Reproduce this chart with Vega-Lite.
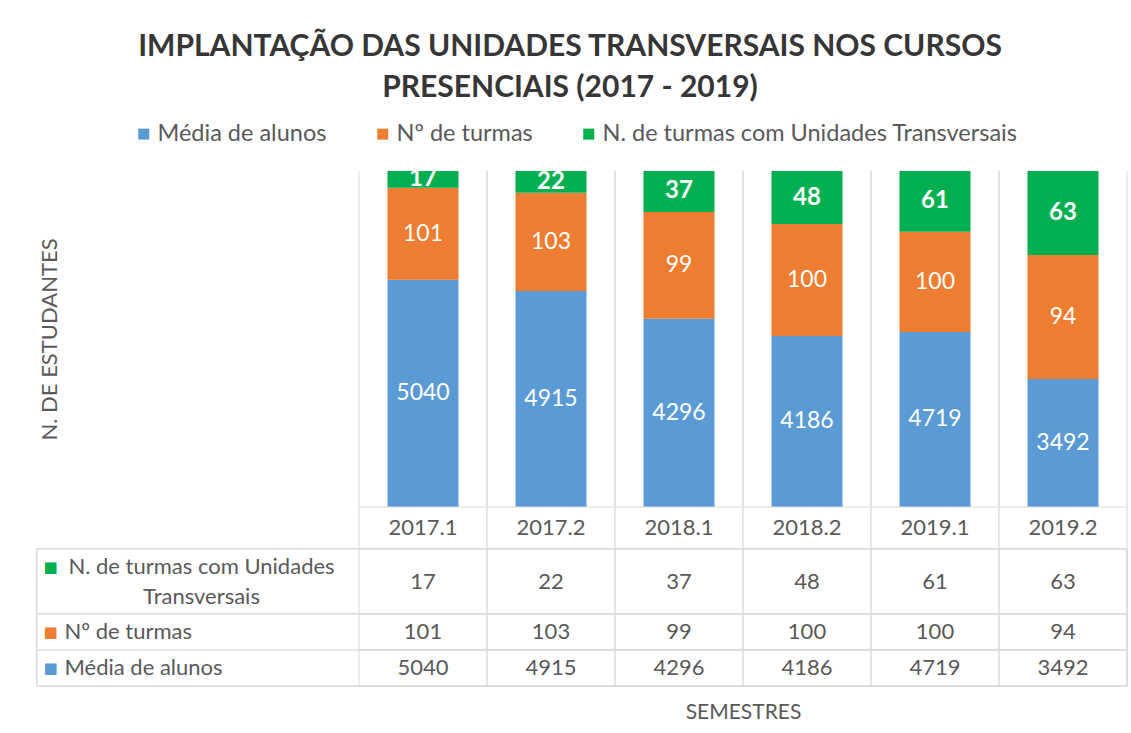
{
  "$schema": "https://vega.github.io/schema/vega-lite/v6.json",
  "background": "white",
  "autosize": {"type": "pad"},
  "padding": {"left": 36, "top": 32, "right": 5, "bottom": 5},
  "bounds": "flush",
  "config": {
    "view": {"stroke": null},
    "font": "Lato",
    "text": {"font": "Lato"},
    "axis": {"labelFont": "Lato", "titleFont": "Lato"},
    "legend": {"labelFont": "Lato"}
  },
  "title": {
    "text": ["IMPLANTAÇÃO DAS UNIDADES TRANSVERSAIS NOS CURSOS", "PRESENCIAIS (2017 - 2019)"],
    "font": "Lato",
    "fontSize": 30,
    "fontWeight": "bold",
    "color": "#363636",
    "lineHeight": 41,
    "anchor": "middle",
    "dx": -12,
    "offset": 19
  },
  "datasets": {
    "barras": [
      {"semestre": "2017.1", "serie": "Média de alunos", "valor": 5040, "altura": 67.6, "ordem": 1},
      {"semestre": "2017.1", "serie": "Nº de turmas", "valor": 101, "altura": 27.4, "ordem": 2},
      {"semestre": "2017.1", "serie": "N. de turmas com Unidades Transversais", "valor": 17, "altura": 5.0, "ordem": 3},
      {"semestre": "2017.2", "serie": "Média de alunos", "valor": 4915, "altura": 64.3, "ordem": 1},
      {"semestre": "2017.2", "serie": "Nº de turmas", "valor": 103, "altura": 29.2, "ordem": 2},
      {"semestre": "2017.2", "serie": "N. de turmas com Unidades Transversais", "valor": 22, "altura": 6.5, "ordem": 3},
      {"semestre": "2018.1", "serie": "Média de alunos", "valor": 4296, "altura": 56.0, "ordem": 1},
      {"semestre": "2018.1", "serie": "Nº de turmas", "valor": 99, "altura": 31.8, "ordem": 2},
      {"semestre": "2018.1", "serie": "N. de turmas com Unidades Transversais", "valor": 37, "altura": 12.2, "ordem": 3},
      {"semestre": "2018.2", "serie": "Média de alunos", "valor": 4186, "altura": 50.9, "ordem": 1},
      {"semestre": "2018.2", "serie": "Nº de turmas", "valor": 100, "altura": 33.3, "ordem": 2},
      {"semestre": "2018.2", "serie": "N. de turmas com Unidades Transversais", "valor": 48, "altura": 15.8, "ordem": 3},
      {"semestre": "2019.1", "serie": "Média de alunos", "valor": 4719, "altura": 52.1, "ordem": 1},
      {"semestre": "2019.1", "serie": "Nº de turmas", "valor": 100, "altura": 29.8, "ordem": 2},
      {"semestre": "2019.1", "serie": "N. de turmas com Unidades Transversais", "valor": 61, "altura": 18.1, "ordem": 3},
      {"semestre": "2019.2", "serie": "Média de alunos", "valor": 3492, "altura": 38.1, "ordem": 1},
      {"semestre": "2019.2", "serie": "Nº de turmas", "valor": 94, "altura": 36.9, "ordem": 2},
      {"semestre": "2019.2", "serie": "N. de turmas com Unidades Transversais", "valor": 63, "altura": 25.0, "ordem": 3}
    ]
  },
  "spacing": 0,
  "resolve": {"scale": {"x": "independent", "y": "independent"}, "axis": {"x": "independent", "y": "independent"}},
  "vconcat": [
    {
      "width": 1090,
      "height": 336,
      "data": {"name": "barras"},
      "layer": [
        {
          "transform": [{"filter": "datum.serie === 'Média de alunos'"}],
          "mark": {"type": "rule", "color": "#D9D9D9", "strokeWidth": 1},
          "encoding": {
            "x": {"field": "semestre", "type": "nominal", "bandPosition": 0, "axis": null,
                  "scale": {"domain": ["2017.1", "2017.2", "2018.1", "2018.2", "2019.1", "2019.2"], "range": [322, 1090], "paddingInner": 0, "paddingOuter": 0}}
          }
        },
        {
          "transform": [{"filter": "datum.serie === 'Média de alunos'"}],
          "mark": {"type": "rule", "color": "#D9D9D9", "strokeWidth": 1},
          "encoding": {
            "x": {"field": "semestre", "type": "nominal", "bandPosition": 1, "axis": null}
          }
        },
        {
          "mark": {"type": "bar", "width": {"band": 0.555}},
          "encoding": {
            "x": {"field": "semestre", "type": "nominal", "axis": null},
            "y": {"field": "altura", "type": "quantitative", "stack": "normalize",
                  "axis": {"title": "N. DE ESTUDANTES", "labels": false, "ticks": false, "domain": false, "grid": false,
                           "titleFontSize": 22, "titleFontWeight": "normal", "titleColor": "#595959", "offset": -24, "titlePadding": 0}},
            "color": {"field": "serie", "type": "nominal",
                      "scale": {"domain": ["Média de alunos", "Nº de turmas", "N. de turmas com Unidades Transversais"], "range": ["#5B9BD5", "#ED7D31", "#00B050"]},
                      "legend": {"orient": "none", "legendX": 95, "legendY": -49, "direction": "horizontal", "title": null,
                                 "symbolType": "square", "symbolSize": 121, "symbolStrokeWidth": 0,
                                 "labelFontSize": 23.5, "labelColor": "#595959", "columnPadding": 44, "labelOffset": 2, "labelLimit": 0}},
            "order": {"field": "ordem", "type": "quantitative"}
          }
        },
        {
          "mark": {"type": "text", "fontSize": 23, "color": "white"},
          "encoding": {
            "x": {"field": "semestre", "type": "nominal", "axis": null},
            "y": {"field": "altura", "type": "quantitative", "stack": "normalize", "bandPosition": 0.5},
            "detail": {"field": "serie", "type": "nominal"},
            "order": {"field": "ordem", "type": "quantitative"},
            "text": {"field": "valor", "type": "quantitative", "format": "d"},
            "opacity": {"condition": {"test": "datum.serie === 'N. de turmas com Unidades Transversais'", "value": 0}, "value": 1}
          }
        },
        {
          "mark": {"type": "text", "fontSize": 24, "fontWeight": "bold", "color": "white", "clip": true},
          "encoding": {
            "x": {"field": "semestre", "type": "nominal", "axis": null},
            "y": {"field": "altura", "type": "quantitative", "stack": "normalize", "bandPosition": 0.5},
            "detail": {"field": "serie", "type": "nominal"},
            "order": {"field": "ordem", "type": "quantitative"},
            "text": {"field": "valor", "type": "quantitative", "format": "d"},
            "opacity": {"condition": {"test": "datum.serie === 'N. de turmas com Unidades Transversais'", "value": 1}, "value": 0}
          }
        }
      ]
    },
    {
      "width": 1090,
      "height": 42,
      "data": {"name": "barras"},
      "transform": [{"filter": "datum.serie === 'Média de alunos'"}],
      "layer": [
        {
          "mark": {"type": "rect", "fill": "white", "stroke": "#D9D9D9", "strokeWidth": 1},
          "encoding": {
            "x": {"field": "semestre", "type": "nominal", "axis": null,
                  "scale": {"domain": ["2017.1", "2017.2", "2018.1", "2018.2", "2019.1", "2019.2"], "range": [322, 1090], "paddingInner": 0, "paddingOuter": 0}}
          }
        },
        {
          "mark": {"type": "text", "fontSize": 22, "color": "#595959"},
          "encoding": {
            "x": {"field": "semestre", "type": "nominal", "axis": null},
            "text": {"field": "semestre", "type": "nominal"}
          }
        }
      ]
    },
    {
      "width": 1090,
      "height": 65,
      "data": {"name": "barras"},
      "transform": [{"filter": "datum.serie === 'N. de turmas com Unidades Transversais'"}],
      "resolve": {"axis": {"y": "independent"}},
      "layer": [
        {
          "mark": {"type": "rect", "fill": "white", "stroke": "#D9D9D9", "strokeWidth": 1},
          "encoding": {
            "y": {"field": "serie", "type": "nominal", "scale": {"paddingInner": 0, "paddingOuter": 0},
                  "axis": {"orient": "left", "title": null, "ticks": false, "domain": false, "grid": false,
                           "labelAlign": "center", "labelBaseline": "middle", "labelPadding": -164, "labelLimit": 0, "labelOffset": -15,
                           "labelFontSize": 22, "labelColor": "#595959", "labelLineHeight": 30,
                           "labelExpr": "['N. de turmas com Unidades', 'Transversais']"}}
          }
        },
        {
          "mark": {"type": "rect", "fill": "transparent", "stroke": "#D9D9D9", "strokeWidth": 1},
          "encoding": {
            "x": {"field": "semestre", "type": "nominal", "axis": null,
                  "scale": {"domain": ["2017.1", "2017.2", "2018.1", "2018.2", "2019.1", "2019.2"], "range": [322, 1090], "paddingInner": 0, "paddingOuter": 0}},
            "y": {"field": "serie", "type": "nominal",
                  "axis": {"orient": "left", "title": null, "ticks": false, "domain": false, "grid": false,
                           "labelAlign": "center", "labelBaseline": "middle", "labelPadding": -13, "labelOffset": -15,
                           "labelFont": "DejaVu Sans", "labelFontSize": 15, "labelColor": "#00B050", "labelExpr": "'■'"}}
          }
        },
        {
          "mark": {"type": "text", "fontSize": 22, "color": "#595959"},
          "encoding": {
            "x": {"field": "semestre", "type": "nominal", "axis": null},
            "y": {"field": "serie", "type": "nominal", "axis": null},
            "text": {"field": "valor", "type": "quantitative", "format": "d"}
          }
        }
      ]
    },
    {
      "width": 1090,
      "height": 72,
      "data": {"name": "barras"},
      "transform": [{"filter": "datum.serie !== 'N. de turmas com Unidades Transversais'"}],
      "resolve": {"axis": {"y": "independent"}},
      "layer": [
        {
          "mark": {"type": "rect", "fill": "white", "stroke": "#D9D9D9", "strokeWidth": 1},
          "encoding": {
            "y": {"field": "serie", "type": "nominal",
                  "scale": {"domain": ["Nº de turmas", "Média de alunos"], "paddingInner": 0, "paddingOuter": 0},
                  "axis": {"orient": "left", "title": null, "ticks": false, "domain": false, "grid": false,
                           "labelAlign": "left", "labelBaseline": "middle", "labelPadding": -27, "labelLimit": 0,
                           "labelFontSize": 22, "labelColor": "#595959"}}
          }
        },
        {
          "mark": {"type": "rect", "fill": "transparent", "stroke": "#D9D9D9", "strokeWidth": 1},
          "encoding": {
            "x": {"field": "semestre", "type": "nominal",
                  "scale": {"domain": ["2017.1", "2017.2", "2018.1", "2018.2", "2019.1", "2019.2"], "range": [322, 1090], "paddingInner": 0, "paddingOuter": 0},
                  "axis": {"labels": false, "ticks": false, "domain": false, "grid": false, "title": "SEMESTRES",
                           "titleFontSize": 21, "titleFontWeight": "normal", "titleColor": "#595959", "titleX": 706, "titlePadding": 15}},
            "y": {"field": "serie", "type": "nominal",
                  "axis": {"orient": "left", "title": null, "ticks": false, "domain": false, "grid": false,
                           "labelAlign": "center", "labelBaseline": "middle", "labelPadding": -13,
                           "labelFont": "DejaVu Sans", "labelFontSize": 15, "labelExpr": "'■'",
                           "labelColor": {"condition": {"test": "datum.value === 'Nº de turmas'", "value": "#ED7D31"}, "value": "#5B9BD5"}}}
          }
        },
        {
          "mark": {"type": "text", "fontSize": 22, "color": "#595959"},
          "encoding": {
            "x": {"field": "semestre", "type": "nominal",
                  "axis": {"labels": false, "ticks": false, "domain": false, "grid": false, "title": "SEMESTRES",
                           "titleFontSize": 21, "titleFontWeight": "normal", "titleColor": "#595959", "titleX": 706, "titlePadding": 15}},
            "y": {"field": "serie", "type": "nominal", "axis": null},
            "text": {"field": "valor", "type": "quantitative", "format": "d"}
          }
        }
      ]
    }
  ]
}
